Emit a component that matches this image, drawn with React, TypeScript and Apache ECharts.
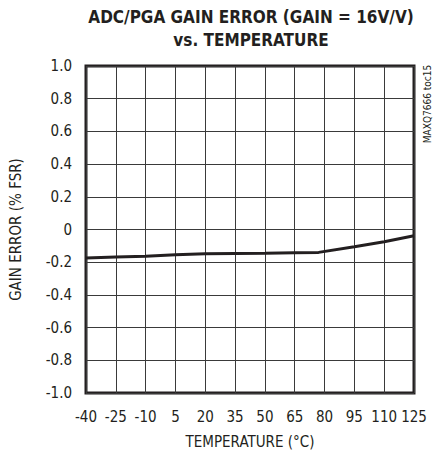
import React, { useEffect, useRef } from "react";
import * as echarts from "echarts";

const temperatures = [-40, -25, -10, 5, 20, 35, 50, 65, 77, 95, 110, 125];
const gainError = [-0.175, -0.168, -0.163, -0.155, -0.148, -0.147, -0.146, -0.142, -0.14, -0.105, -0.075, -0.038];
const xTicks = { min: -40, max: 125, interval: 15 };
const yTicks = { min: -1, max: 1, interval: 0.2 };

const FONT = "'DejaVu Sans Condensed', 'Liberation Sans Narrow', sans-serif";
const INK = "#231f20";

export default function App() {
  const ref = useRef<HTMLDivElement>(null);
  useEffect(() => {
    if (!ref.current) return;
    const chart = echarts.init(ref.current, undefined, { renderer: "svg" });
    chart.setOption({
      animation: false,
      backgroundColor: "#ffffff",
      title: {
        text: "ADC/PGA GAIN ERROR (GAIN = 16V/V)\nvs. TEMPERATURE",
        left: 251,
        top: 5,
        textAlign: "center",
        padding: 0,
        textStyle: {
          fontFamily: FONT,
          fontWeight: "bold",
          fontSize: 17,
          lineHeight: 23,
          color: INK,
          align: "center",
        },
      },
      grid: {
        left: 86,
        right: 24,
        top: 66,
        bottom: 63,
        show: true,
        borderColor: INK,
        borderWidth: 3,
        backgroundColor: "transparent",
      },
      xAxis: {
        type: "value",
        min: xTicks.min,
        max: xTicks.max,
        interval: xTicks.interval,
        name: "TEMPERATURE (°C)",
        nameLocation: "middle",
        nameGap: 41,
        nameTextStyle: { fontFamily: FONT, fontSize: 15, color: INK },
        axisLine: { show: false },
        axisTick: { show: false },
        axisLabel: { margin: 16, fontFamily: FONT, fontSize: 15, color: INK },
        splitLine: { show: true, lineStyle: { color: "#3a3a3a", width: 1 } },
      },
      yAxis: {
        type: "value",
        min: yTicks.min,
        max: yTicks.max,
        interval: yTicks.interval,
        name: "GAIN ERROR (% FSR)",
        nameLocation: "middle",
        nameGap: 63,
        nameTextStyle: { fontFamily: FONT, fontSize: 15, color: INK },
        axisLine: { show: false },
        axisTick: { show: false },
        axisLabel: {
          margin: 14,
          fontFamily: FONT,
          fontSize: 15,
          color: INK,
          formatter: (v: number) => (Math.abs(v) < 1e-9 ? "0" : v.toFixed(1)),
        },
        splitLine: { show: true, lineStyle: { color: "#3a3a3a", width: 1 } },
      },
      graphic: [
        {
          type: "text",
          x: 427,
          y: 104,
          rotation: Math.PI / 2,
          style: {
            text: "MAXQ7666 toc15",
            fontFamily: FONT,
            fontSize: 10,
            fill: INK,
            align: "center",
            verticalAlign: "middle",
          },
        },
      ],
      series: [
        {
          type: "line",
          data: temperatures.map((t, i) => [t, gainError[i]]),
          showSymbol: false,
          symbol: "none",
          lineStyle: { color: INK, width: 3 },
          z: 5,
        },
      ],
    });
    return () => chart.dispose();
  }, []);
  return (
    <div
      ref={ref}
      style={{ position: "fixed", left: 0, top: 0, width: 438, height: 456 }}
    />
  );
}
